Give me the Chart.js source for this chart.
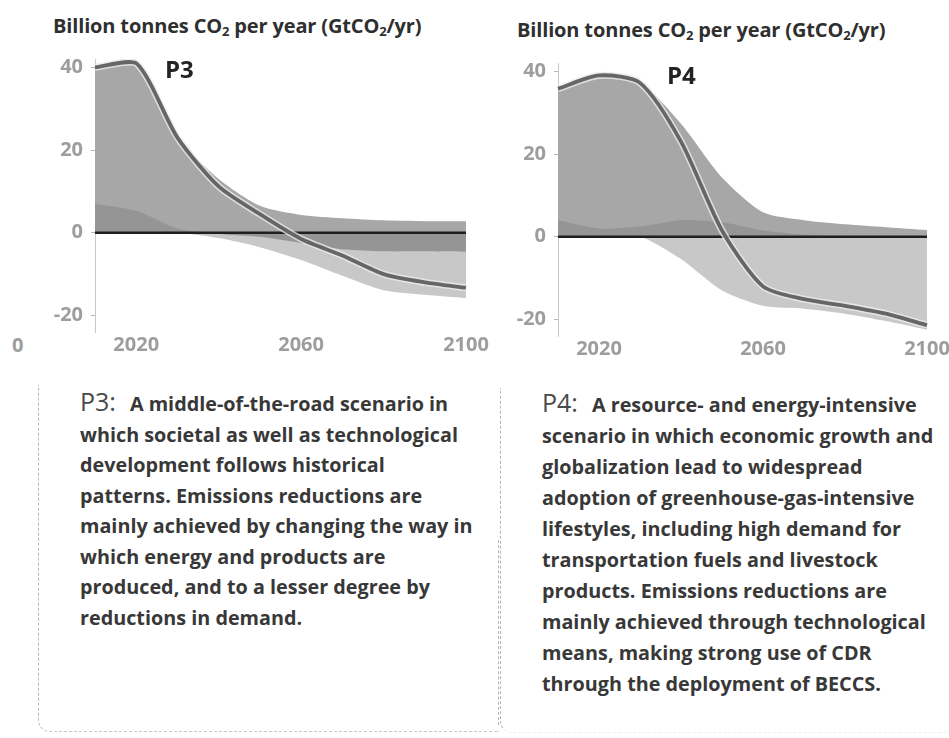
<!DOCTYPE html>
<html>
<head>
<meta charset="utf-8">
<script src="https://cdn.jsdelivr.net/npm/chart.js@4.4.1/dist/chart.umd.min.js"></script>
<style>
  html, body { margin: 0; padding: 0; background: #fff; width: 949px; height: 738px; overflow: hidden; position: relative; font-family: "Open Sans", sans-serif; }
  canvas { position: absolute; }
  .ttl { position: absolute; font-weight: 700; font-size: 20px; color: #2f2f2f; white-space: nowrap; letter-spacing: -0.15px; }
  .ttl sub { font-size: 13px; vertical-align: -3px; }
  .tag { position: absolute; font-weight: 700; font-size: 24px; color: #232323; }
  .stray { position: absolute; font-weight: 700; font-size: 20px; color: #9d9d9d; }
  .txt { position: absolute; font-weight: 700; font-size: 19.8px; color: #383838; white-space: nowrap; letter-spacing: 0; }
  .txt .big { font-size: 25px; font-weight: 500; color: #4a4a4a; margin-right: 14px; }
  .box { position: absolute; border: 0 dashed #b5b5b5; }
</style>
</head>
<body>

<div class="ttl" style="left:53px; top:12px;">Billion tonnes CO<sub>2</sub> per year (GtCO<sub>2</sub>/yr)</div>
<div class="ttl" style="left:517px; top:16px;">Billion tonnes CO<sub>2</sub> per year (GtCO<sub>2</sub>/yr)</div>

<canvas id="p3" width="470" height="320" style="left:30px; top:39px;"></canvas>
<canvas id="p4" width="480" height="320" style="left:493px; top:43px;"></canvas>

<div class="tag" style="left:165px; top:52px;">P3</div>
<div class="tag" style="left:667px; top:58px;">P4</div>
<div class="stray" style="left:12px; top:331px;">0</div>

<div class="box" style="left:38px; top:385px; width:460px; height:346px; border-left-width:1.5px; border-bottom-width:1.5px; border-bottom-left-radius:12px; border-bottom-color:#c8c8c8;"></div>
<div class="box" style="left:498px; top:540px; width:0; height:185px; border-left-width:1.5px;"></div>
<div class="box" style="left:500px; top:388px; width:450px; height:344px; border-left-width:1.5px; border-bottom-width:1.5px; border-bottom-left-radius:12px; border-bottom-color:#eeeeee;"></div>

<div class="txt" style="left:80px; top:386px; line-height:30.5px;"><span class="big">P3:</span>A middle-of-the-road scenario in<br>which societal as well as technological<br>development follows historical<br>patterns. Emissions reductions are<br>mainly achieved by changing the way in<br>which energy and products are<br>produced, and to a lesser degree by<br>reductions in demand.</div>

<div class="txt" style="left:542px; top:387px; line-height:31px;"><span class="big">P4:</span>A resource- and energy-intensive<br>scenario in which economic growth and<br>globalization lead to widespread<br>adoption of greenhouse-gas-intensive<br>lifestyles, including high demand for<br>transportation fuels and livestock<br>products. Emissions reductions are<br>mainly achieved through technological<br>means, making strong use of CDR<br>through the deployment of BECCS.</div>

<script>
const YEARS = [2010, 2020, 2030, 2040, 2050, 2060, 2070, 2080, 2090, 2100];
const X_TICKS = [2020, 2060, 2100];
const Y_TICKS = [-20, 0, 20, 40];

// P3: middle-of-the-road
const P3_FOSSIL = [40, 41, 23, 13, 6.5, 4.3, 3.5, 3, 2.8, 2.8];
const P3_AFOLU = [7, 5.3, 1, -0.3, -1, -2.5, -4, -4.5, -4.5, -4.6];
const P3_BECCS = [0, 0, 0, -1.3, -3.5, -6.6, -10.4, -13.9, -15, -15.8];
const P3_NET = [40, 41, 23, 11.2, 4.5, -1.5, -5.5, -10, -12, -13.3];

// P4: resource- and energy-intensive
const P4_FOSSIL = [35.8, 39, 37.2, 27.3, 14.3, 5.9, 4, 3, 2.3, 1.6];
const P4_AFOLU = [4, 2, 2.5, 4, 3.5, 1.5, 0.5, 0, 0, 0];
const P4_BECCS = [0, 0, 0, -5.4, -13, -16.7, -17.4, -18.6, -20.4, -22.5];
const P4_NET = [35.8, 39, 37.2, 23, 1.5, -12, -15.1, -16.7, -18.6, -21.4];

const tickFont = { family: '"Open Sans", sans-serif', size: 20, weight: '700' };

// zero line drawn just before the net line so it sits over the areas
const zeroLine = {
  id: 'zeroLine',
  beforeDatasetDraw(chart, args) {
    if (args.index !== 3) return;
    const { ctx, chartArea, scales } = chart;
    const y = scales.y.getPixelForValue(0);
    ctx.save();
    ctx.strokeStyle = '#1f1f1f';
    ctx.lineWidth = 2.5;
    ctx.beginPath();
    ctx.moveTo(chartArea.left, y);
    ctx.lineTo(chartArea.right, y);
    ctx.stroke();
    ctx.restore();
  }
};

function area(data, color, order) {
  return { data, fill: 'origin', backgroundColor: color, borderWidth: 0, pointRadius: 0, tension: 0.25, order };
}

function makeChart(id, fossil, afolu, beccs, net, padRight) {
  new Chart(document.getElementById(id), {
    type: 'line',
    data: {
      labels: YEARS,
      datasets: [
        area(fossil, '#a7a7a7', 5),
        area(beccs, '#c8c8c8', 4),
        area(afolu, '#959595', 3),
        { data: net, borderColor: 'rgba(235,235,235,0.8)', borderWidth: 7, pointRadius: 0, fill: false, tension: 0.25, order: 2 },
        { data: net, borderColor: '#666666', borderWidth: 3.8, pointRadius: 0, fill: false, tension: 0.25, order: 1 }
      ]
    },
    options: {
      responsive: false,
      animation: false,
      layout: { padding: { top: 12, right: padRight, left: 0, bottom: 0 } },
      plugins: { legend: { display: false }, tooltip: { enabled: false } },
      scales: {
        x: {
          grid: { display: false, drawTicks: false },
          border: { display: false },
          ticks: {
            autoSkip: false, maxRotation: 0, padding: 1, color: '#9d9d9d', font: tickFont,
            callback: (v, i) => X_TICKS.includes(YEARS[i]) ? String(YEARS[i]) : ''
          },
          afterFit: s => { s.height = 27; }
        },
        y: {
          min: -24, max: 42,
          afterBuildTicks: s => { s.ticks = Y_TICKS.map(v => ({ value: v })); },
          grid: { color: 'rgba(0,0,0,0)', tickColor: '#b8b8b8', tickLength: 4 },
          border: { color: '#c8c8c8', width: 1 },
          ticks: { color: '#9d9d9d', font: tickFont, padding: 8 },
          afterFit: s => { s.width = 65; }
        }
      }
    },
    plugins: [zeroLine]
  });
}

makeChart('p3', P3_FOSSIL, P3_AFOLU, P3_BECCS, P3_NET, 34);
makeChart('p4', P4_FOSSIL, P4_AFOLU, P4_BECCS, P4_NET, 46);
</script>
</body>
</html>
